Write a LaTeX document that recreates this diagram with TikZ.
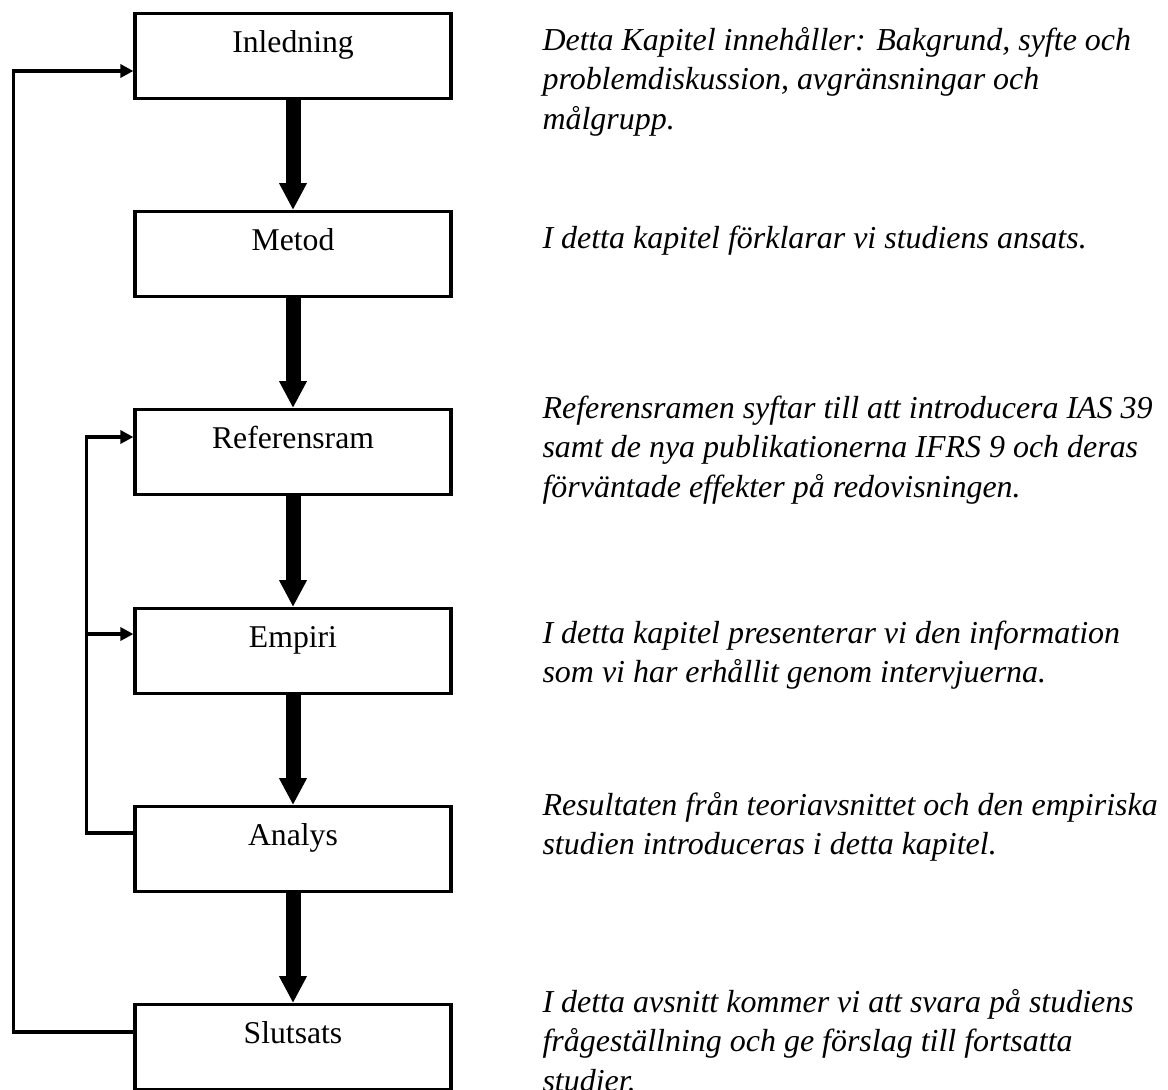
\documentclass[tikz,border=0pt]{standalone}
\usepackage{fontspec}
\setmainfont{Liberation Serif}
\usetikzlibrary{arrows.meta}

% one picture unit = 0.3786pt, y grows downwards
\begin{document}
\begin{tikzpicture}[x=0.3786pt,y=-0.3786pt,
  chapter/.style={draw, line width=1.25pt, inner sep=0pt, anchor=north,
    minimum width=119.6pt, text height=14.77pt, text depth=17.42pt,
    font=\fontsize{12}{15.1}\selectfont},
  desc/.style={anchor=base west, inner sep=0pt,
    font=\fontsize{12.1}{15.1}\selectfont\itshape},
  flow/.style={line width=5.68pt, -{Triangle[length=10.2pt,width=9.84pt]}},
  loopback/.style={line width=1.3pt, line join=miter,
    -{Triangle[length=4.9pt,width=4.9pt]}}]

\useasboundingbox (0,0) rectangle (1168,1089);
\begin{scope}
\clip (0,0) rectangle (1168,1089);

% chapter boxes
\node[chapter] (inl) at (293,12)   {Inledning};
\node[chapter] (met) at (293,210)  {Metod};
\node[chapter] (ref) at (293,408)  {Referensram};
\node[chapter] (emp) at (293,607)  {Empiri};
\node[chapter] (ana) at (293,805)  {Analys};
\node[chapter] (slu) at (293,1003) {Slutsats};

% main reading order
\draw[flow] (inl.south) -- (met.north);
\draw[flow] (met.south) -- (ref.north);
\draw[flow] (ref.south) -- (emp.north);
\draw[flow] (emp.south) -- (ana.north);
\draw[flow] (ana.south) -- (slu.north);

% feedback from the conclusion back to the introduction
\coordinate (o1) at (13.5,1032);
\coordinate (o2) at (13.5,71);
\draw[loopback] (slu.west |- o1) -- (o1) -- (o2) -- (inl.west |- o2);

% feedback from the analysis to the framework and the empirical part
\coordinate (i1) at (86.7,833);
\coordinate (i2) at (86.7,437);
\coordinate (i3) at (86.7,634);
\draw[loopback] (ana.west |- i1) -- (i1) -- (i2) -- (ref.west |- i2);
\draw[loopback] (i3) -- (emp.west |- i3);

% chapter descriptions
\node[desc] (d1) at (542,50) {\begin{tabular}[t]{@{}l@{}}
  Detta Kapitel innehåller: Bakgrund, syfte och\\
  problemdiskussion, avgränsningar och\\
  målgrupp.\end{tabular}};
\node[desc] (d2) at (542,248) {\begin{tabular}[t]{@{}l@{}}
  I detta kapitel förklarar vi studiens ansats.\end{tabular}};
\node[desc] (d3) at (542,418) {\begin{tabular}[t]{@{}l@{}}
  Referensramen syftar till att introducera IAS 39\\
  samt de nya publikationerna IFRS 9 och deras\\
  förväntade effekter på redovisningen.\end{tabular}};
\node[desc] (d4) at (542,643) {\begin{tabular}[t]{@{}l@{}}
  I detta kapitel presenterar vi den information\\
  som vi har erhållit genom intervjuerna.\end{tabular}};
\node[desc] (d5) at (542,815) {\begin{tabular}[t]{@{}l@{}}
  Resultaten från teoriavsnittet och den empiriska\\
  studien introduceras i detta kapitel.\end{tabular}};
\node[desc] (d6) at (542,1012) {\begin{tabular}[t]{@{}l@{}}
  I detta avsnitt kommer vi att svara på studiens\\
  frågeställning och ge förslag till fortsatta\\
  studier.\end{tabular}};
\end{scope}
\end{tikzpicture}
\end{document}
